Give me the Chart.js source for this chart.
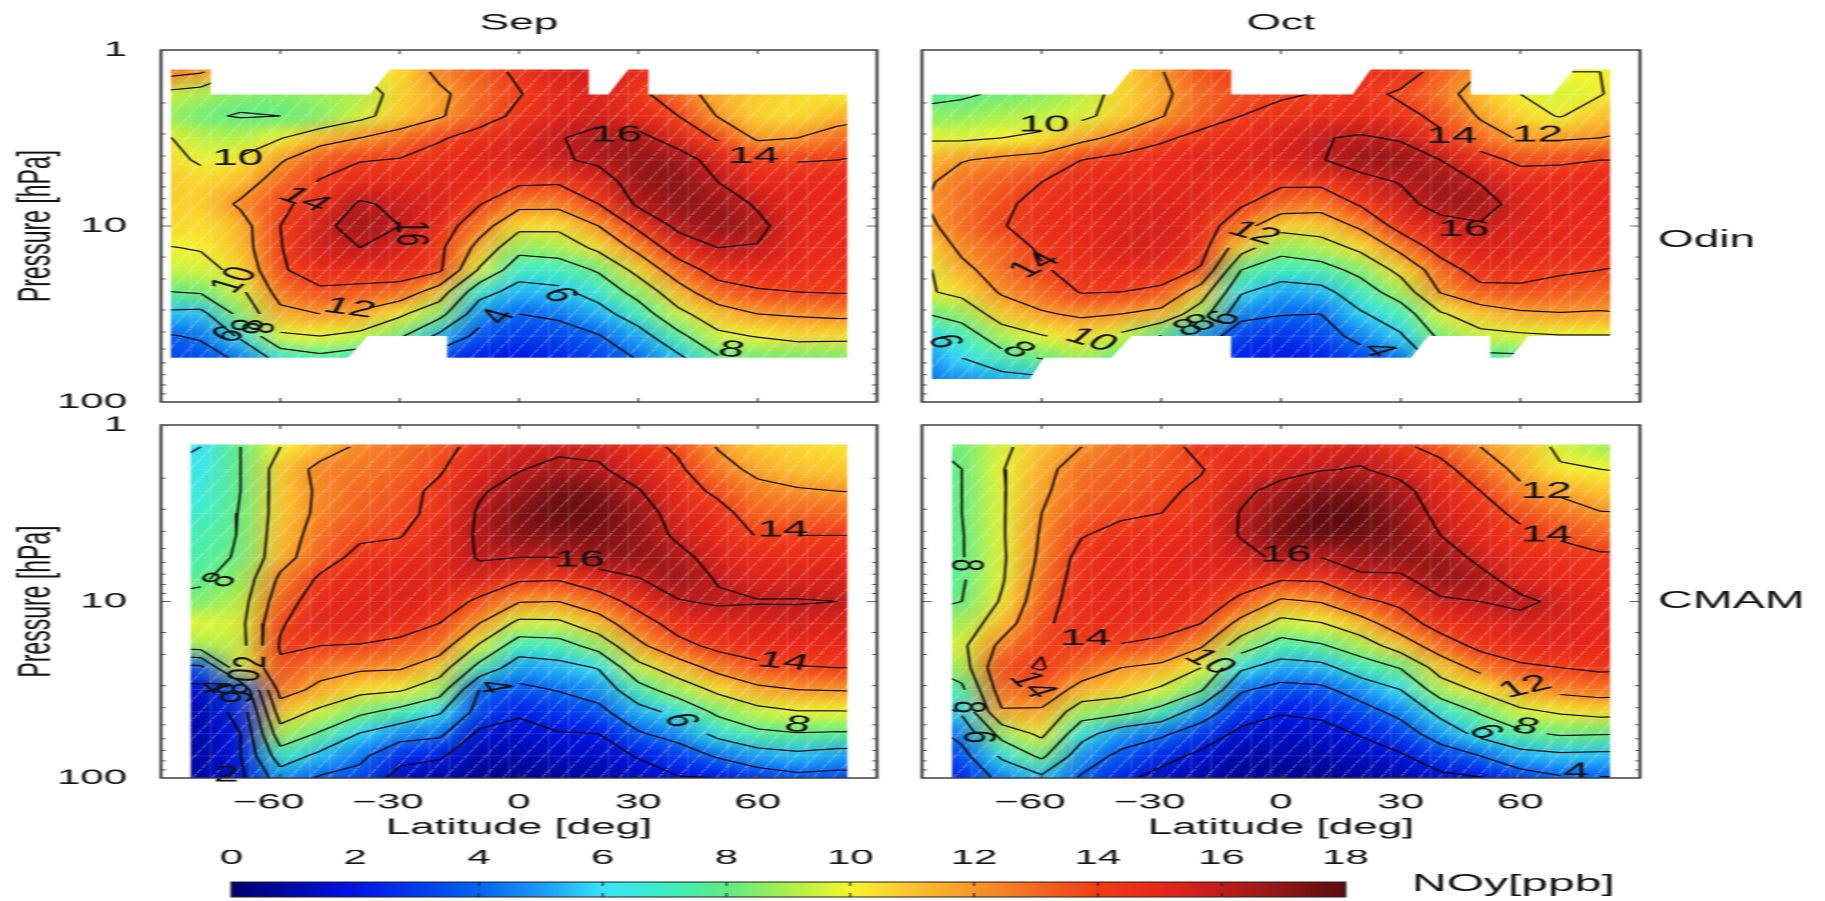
<!DOCTYPE html>
<html>
<head>
<meta charset="utf-8">
<title>NOy Odin CMAM</title>
<script src="https://cdn.jsdelivr.net/npm/chart.js@4"></script>
<style>
  html, body { margin: 0; padding: 0; background: #fff; overflow: hidden; }
  /* the reference is a picture stretched to twice its width, so the whole page is too */
  #page { position: absolute; left: 0; top: 0; width: 912.5px; height: 901px; transform: scaleX(2); transform-origin: 0 0; filter: blur(0.5px); }
  #page canvas { position: absolute; }
  .side { position: absolute; font-family: "Liberation Sans"; color: #111; line-height: 1; white-space: nowrap; }
</style>
</head>
<body>
<div id="page">
  <canvas id="sepOdin" width="445" height="415" style="left:0;top:0"></canvas>
  <canvas id="octOdin" width="380" height="415" style="left:445px;top:0"></canvas>
  <canvas id="sepCmam" width="445" height="438" style="left:0;top:412px"></canvas>
  <canvas id="octCmam" width="380" height="438" style="left:445px;top:412px"></canvas>
  <canvas id="bar" width="620" height="51" style="left:90px;top:850px"></canvas>
  <div class="side" style="left:829px;top:228px;font-size:23px">Odin</div>
  <div class="side" style="left:829px;top:588px;font-size:24px">CMAM</div>
  <div class="side" style="left:706px;top:871px;font-size:24px">NOy[ppb]</div>
</div>
<script>
const latitudes = [-90,-80,-70,-60,-50,-40,-30,-20,-10,0,10,20,30,40,50,60,70,80,90];
const pressures = [1.33,1.78,2.37,3.16,4.22,5.62,7.5,10,13.3,17.8,23.7,31.6,42.2,56.2,75,100];
const contourLevels = [2,4,6,8,10,12,14,16];
const barTicks = [0,2,4,6,8,10,12,14,16,18];
const rampValues = [0,2,4,5,6,7,8,9,10,11,12,13,14,15,16,17,18];
const rampColors = [[0,0,110],[0,20,230],[5,100,240],[25,155,245],[55,228,250],[60,238,195],[95,235,130],[170,240,75],
  [245,245,45],[252,195,45],[248,150,40],[243,105,32],[240,60,25],[232,40,25],[192,28,28],[145,22,22],[90,10,15]];
// faint white cell lines in the picture
const cellLineLats = [-82.5,-77.5,-67.5,-62.5,-52.5,-47.5,-37.5,-32.5,-22.5,-17.5,-7.5,-2.5,7.5,12.5,22.5,27.5,37.5,42.5,52.5,57.5,67.5,72.5];

// one row per pressure, latitudes across
const sepOdinRows = [
  [12.8,12.2,10,10,10,10,10.5,12.5,13.3,14.3,15.5,15.5,15,14,13,12,11,10.5,10.5],
  [9.5,9,8.5,8.5,8.8,9,10.7,11.6,13,13.9,15,15.3,14.5,12.8,11.3,10.8,10.5,10.2,9.8],
  [8.8,8.2,7.9,8,8.4,9.5,10.8,11.8,13.2,14.4,15.2,15.5,15,14,11.9,10.7,10.4,11.3,11.7],
  [10.3,9.2,9.1,9.9,11.2,12,12.8,13.8,14.7,15.2,15.9,16.5,16.5,15.2,13.8,11.7,12,12.8,13.5],
  [10.6,9.8,10.2,11.8,13.4,13.9,14.1,14.8,15.1,15.4,15.8,16.3,17,16.8,15.3,14,13.9,14,14.2],
  [11,10.6,11,13,14.1,15,15.1,15.2,15,14.3,14.2,15.2,16.8,17.2,16,15,15,15,15],
  [10.8,10.7,12.3,13.7,14.6,16.2,15.7,15.3,14.1,12.5,12.5,14,16.3,17,16.9,15.8,15.1,15,15],
  [10.7,10.4,11.2,14,15.5,16.8,16,15,12.8,10.5,10.4,12,14.4,16.4,17,16.4,15.1,15,15],
  [9.9,10.1,11.1,13.9,15.6,16,15.5,14.4,11.4,8.6,8.9,10.4,12.5,15,16,15.9,15,14.9,14.8],
  [9.4,9.5,10.4,13.8,14.8,15,14.9,14.3,9.8,6.8,7,8.2,10.6,13,14.7,15,14.8,14.5,14.3],
  [7.9,8.2,9.6,12.7,13.7,13.4,13.2,11,6.7,5.3,5.6,6.7,8.7,11.2,13.2,13.8,14,14.1,14.1],
  [5.6,5.4,8.6,11.5,12,11.7,10.3,8.7,4.8,4,4.3,5.3,7,9.5,11.1,12,12.2,12.4,12.4],
  [3.8,4.2,6.3,9.7,10,9.5,8.3,5.5,3.5,3,3.3,3.9,5.2,7.5,9.6,10.1,10.6,10.5,10.5],
  [3.2,3.3,4.3,6.7,7.5,6.9,6.2,3,2.2,2,2.4,3.2,4.1,5.6,7.8,8.2,8.3,8.4,8.4]
];
const octOdinRows = [
  [9,9,9,9,9.5,10.5,11.9,13.6,14,14,14,14.5,15,13.2,12,11,10,10,11],
  [7.5,7.8,8.2,8.5,9.2,10.6,11.6,13,13.6,13.8,14.1,14.6,13.7,12.8,11,10,9.5,9.9,11],
  [8.5,8.6,9,9.3,9.6,10.7,11.9,13.2,14,14.5,14.8,14.9,14.5,13.6,11.8,10.6,9.9,11,11.5],
  [9.8,9.7,10,10.3,11.5,12.5,13.7,14.5,14.9,15.3,15.9,16.2,15.8,14.3,12.9,11.8,11.8,12,12.3],
  [11.2,11.9,12.4,12.8,14,14.6,14.9,15.2,15.2,15.4,15.9,16.8,17,16,14.7,13.6,13.7,14,14],
  [11.6,12.8,13.2,14,14.9,15,15,15.1,15,14.3,14.4,15.4,16.1,16.9,15.9,15,15,15,14.9],
  [11.9,12.8,13.7,14.5,15,15.3,15.3,15.2,14.2,13.1,12.7,14.2,15.4,16.7,16.8,15.3,15,15,15],
  [11.4,12.9,13.9,14.7,15,15.3,15.5,15,12.8,10.6,10.9,12.3,14.7,15.3,15.8,15.3,15,14.9,14.8],
  [10.3,12.4,13,14.3,15,15.4,15.5,14.7,10.8,8.6,9.1,10.4,12.5,14.8,15.4,15.2,15,14.9,14.4],
  [9.5,11.5,12.9,13.8,14.6,14.9,14.9,13.8,8,7,7.3,8.5,10.5,13,14.8,14.6,14.2,14,13.8],
  [9.7,10.5,12.2,13,14.1,14,13.6,11,6.2,5.1,5.4,7.1,8.9,12.1,13.4,13.6,13.4,13.1,13],
  [7.9,8.7,10.9,11.8,12.3,12,11.4,8.9,4.5,4.1,4,5.8,7,9.8,11,11.7,11.9,11.8,12],
  [5.8,7,9,9.9,10.6,9.6,7.9,5,3,2.7,3.3,4.5,5.8,8.4,9.5,9.7,9.9,9.9,9.9],
  [4.5,6,7.3,8.1,9,8,6.5,3.2,2.3,2.1,2.2,3.3,4.2,7,7.5,7.6,8,8,8],
  [4.3,4.8,5.2,5.5,6,6,5,3,2,1.8,1.8,2.5,3.5,6,6,6,6.5,6.5,6.5]
];
// one column per latitude, pressures down
const sepCmamCols = [
  [5.8,6,6.3,6.6,7,7.2,7.6,8.2,9.3,8.5,3,1.4,1,.9,.8,.9],
  [6,6.2,6.5,6.8,7.2,7.4,7.8,8.4,9.8,9,3.5,1.5,1,1,.8,1],
  [8,8,8,8.1,8.1,8.2,8.7,9.2,9.5,9.3,9.7,4,2.5,2,2,1.6],
  [10,10.8,10.8,10.8,11,11.2,12.4,13.1,13.8,14.2,13.7,12.7,11,9.2,7.1,4.9],
  [11.1,12.5,12.3,12.4,12.8,13.2,14.3,15,15.2,14,12.6,11.6,9.6,7.8,5.5,3.8],
  [12.3,12.7,13,13.2,13.7,14.5,15,15.2,15.2,13.9,12.3,10.5,8.4,5.9,4.4,3.4],
  [12.8,13,13.4,13.6,13.9,14.7,15.2,15.3,15,13.4,12.2,10.2,7.4,4.8,2.6,1.3],
  [13.4,13.8,14.4,14.4,15,15.2,15.2,15.1,14,12.9,10.9,8.9,6.2,4.4,2.2,1],
  [14.6,15.3,15.8,16.2,16.2,16.1,15.5,13.6,12,9.8,7.4,4,3.4,1.6,1,.6],
  [15.5,15.9,16.7,17.3,17.2,16,14.2,12.1,9.5,7,5,3.6,2.2,1.5,1,.6],
  [15.6,16.5,17.5,17.8,17.3,16,14.1,12,9.6,7.2,5.4,4.1,2.9,1.9,1.3,.8],
  [15.6,16.2,17.4,17.7,17.4,16.9,15.2,13,11.2,8.7,6.1,4.8,3.5,2,1.4,.9],
  [14.7,15.3,16.1,16.9,17,17,15.9,14.7,13.1,11.6,9.4,7.3,5.3,3.8,2.1,1.3],
  [13.7,14.3,14.9,15.2,15.7,16.5,16.8,15.9,14.8,13.4,11,8.9,6.5,4.7,3,1.9],
  [11.9,12.6,13.6,14.7,15,15.3,15.9,16.2,15.2,14.5,12.6,10.4,8.4,6.5,4.2,2],
  [10.9,11.6,12.5,13,13.9,14.9,15.2,16.1,15.3,15,13.5,11.6,9.4,7.6,5.1,3],
  [10.6,11,12.2,13,14,14.8,15.3,16.1,15.4,15,13.9,12,9.9,7.9,5.5,3.5],
  [10.4,10.9,12,13,14,14.9,15.4,16,15.3,15,14,12.1,9.9,7.8,5.1,3.4],
  [10.3,10.8,11.9,12.9,14,14.9,15.4,15.9,15.2,15,14,12.2,10,7.8,5,3.4]
];
const octCmamCols = [
  [7.9,7.6,7.5,7.5,7.5,7.5,7.5,7.6,8.5,9.4,7.8,6.2,4.2,3,2.5,2],
  [8.2,8,8,8,7.9,7.9,7.8,8,8.9,9.6,9,7.6,6.3,4.6,3.4,2.5],
  [9.6,9.9,9.8,9.8,9.8,9.7,9.8,10.2,11,12.5,13.7,13,11.8,8.7,6.3,4.5],
  [11,11.4,11.7,12,12.2,12.4,12.8,13.2,13.7,13.9,14.1,13.3,11.7,10.4,8.4,5.6],
  [12,12.9,13,13.3,13.9,14.6,14.8,14.9,14.7,14,13.1,11.3,8.9,6.7,4.9,3.8],
  [13,13.1,13.4,13.7,14.6,15,15,15,14.9,13.9,12,10.8,8.5,4.9,3.6,2.4],
  [13.2,13.5,13.7,14,14.8,15,15.1,15.1,14.9,13.4,11.6,9.7,7.4,4.3,2.6,1.4],
  [14.6,13.9,14.3,14.6,15,15.2,15.1,14.9,14,12.2,10,8.2,5,3,1.6,1],
  [14.6,15.1,15.6,16.1,16.1,15.5,14.8,13.6,11.4,8.9,6.3,4.2,2.8,1.6,1,.6],
  [15,15.4,16.6,17.2,17.5,16.3,14.1,11.7,9.4,7.2,5.2,3.4,2.1,1.4,1,.6],
  [15.2,15.9,17.3,18,17.8,16,14.2,12.1,9.9,7.8,5.4,3.6,2.3,1.5,1,.6],
  [15.5,16.1,17.3,17.9,17.6,16.8,15.6,13.6,11.2,9,7,4.8,3.3,2.1,1.3,.8],
  [14.3,15.5,16.5,17,17.2,17,15.6,14.4,13.1,10.9,8.1,6,4.5,3.1,1.8,1.1],
  [13.5,14.5,15.1,15.5,16,17,17,15.7,14.8,13,10.8,9,6.5,4.9,3,1.6],
  [12,13.1,14,14.7,15,15.5,16.6,16,15.1,14.5,12.6,10.3,8.2,6.5,4,1.9],
  [11.2,11.5,12.4,13.6,14.4,14.8,15.2,16.4,15.4,15,13.7,11.7,9.6,7.6,5.3,3.1],
  [9.6,10.2,11.7,12.8,13.8,14.6,15,15.6,15.4,15.1,14,12.5,10.2,8.2,5.6,3.8],
  [8.9,10,11,12.1,13.1,14.3,14.8,15,15,15,14.3,12.8,10.6,8.1,5.5,3.9],
  [8.6,9.8,10.8,12,13,14.3,14.7,15,15,14.9,14.2,12.6,10.5,8,5.5,3.9]
];

// outline of where data exists [lat, hPa]
const sepOdinOutline = [[-87.5,1.29],[-77.5,1.29],[-77.5,1.79],[-37.5,1.79],[-32.5,1.29],[17.5,1.29],[17.5,1.79],[22.5,1.79],[27.5,1.29],[32.5,1.29],[32.5,1.79],[82.5,1.79],[82.5,56],[-18,56],[-18,42.2],[-38,42.2],[-43,56],[-87.5,56]];
const octOdinOutline = [[-87.5,1.79],[-42.5,1.79],[-37.5,1.29],[-12.5,1.29],[-12.5,1.79],[18,1.79],[22.5,1.29],[47.5,1.29],[47.5,1.79],[68,1.79],[73.5,1.29],[82.5,1.29],[82.5,42.2],[62,42.2],[57.5,56],[52.5,56],[52.5,42.2],[37,42.2],[32.5,56],[-12.5,56],[-12.5,42.2],[-37.5,42.2],[-42.5,56],[-59.5,56],[-63,74],[-87.5,74]];
const cmamOutline = [[-82.5,1.29],[82.5,1.29],[82.5,100],[-82.5,100]];

// contour labels [lat, hPa, text, rotation]
const sepOdinLabels = [[-70.7,4.13,'10',0],[-54,7.1,'14',35],[24.5,3.04,'16',0],[59,4.04,'14',0],[-27.4,11,'16',90],[-71.4,20.3,'10',-60],[-42.6,29.4,'12',15],[10,24.7,'6',60],[-5,32.7,'4',-60],[53.4,50.7,'8',10],[-69.3,36.5,'8',90],[-66.4,38,'8',90],[-72.9,41.6,'6',-45]];
const octOdinLabels = [[-59.4,2.67,'10',0],[42.8,3.1,'14',0],[64.3,3.04,'12',0],[-61.6,16.7,'14',-45],[45.8,10.5,'16',0],[-6.8,11,'12',30],[-47.6,44.5,'10',30],[-66,50.7,'8',45],[-84.6,45.4,'6',70],[-23.1,38.1,'8',-30],[-20,35.7,'8',-30],[-14.2,33.5,'6',-60],[24.3,50.7,'4',60]];
const sepCmamLabels = [[66.4,3.94,'14',0],[15.2,5.83,'16',0],[-75,7.57,'8',-60],[66.4,22,'14',10],[70,50.2,'8',10],[40.4,47.1,'6',70],[-6.5,30.5,'4',70],[-67.1,22,'2',-90],[-68.5,26.2,'0',-80],[-72.9,31.1,'8',90],[-72,34.7,'6',90],[-77,30.5,'4',60],[-73.6,96.6,'2',0]];
const octCmamLabels = [[66.5,2.39,'12',0],[66.5,4.2,'14',0],[1.3,5.46,'16',0],[-49,16.2,'14',0],[-79.4,6.22,'8',90],[-62.4,29.8,'14',60],[-17.9,22,'10',45],[61.3,30.5,'12',-25],[61.3,51.4,'8',15],[51,54.8,'6',60],[74,92.5,'4',0],[-78.7,39.6,'8',90],[-76.4,58.5,'6',90]];

const FONT = 'Liberation Sans';
const DPR = 2;

function rampColor(v) {
  let i = 0;
  while (i < rampValues.length - 2 && v > rampValues[i + 1]) i++;
  const t = Math.min(1, Math.max(0, (v - rampValues[i]) / (rampValues[i + 1] - rampValues[i])));
  const c = rampColors[i].map((a, n) => Math.round(a + (rampColors[i + 1][n] - a) * t));
  return 'rgb(' + c.join(',') + ')';
}

function rowsFromCols(cols) {
  return cols[0].map((_, r) => cols.map(col => col[r]));
}

// row edges half way between pressure levels on the log axis
function rowEdge(r) {
  const a = Math.log10(pressures[Math.max(r, 0)]), b = Math.log10(pressures[Math.min(r + 1, pressures.length - 1)]);
  const step = r < 0 ? Math.log10(pressures[1] / pressures[0]) : r >= pressures.length - 1 ? Math.log10(pressures[r] / pressures[r - 1]) : 0;
  return Math.pow(10, r < 0 ? a - step / 2 : r >= pressures.length - 1 ? a + step / 2 : (a + b) / 2);
}

function cellDatasets(rows) {
  return rows.map((row, r) => ({
    type: 'bar', order: 2, grouped: false, barPercentage: 1, categoryPercentage: 1, borderWidth: 0,
    data: latitudes.map((lat, c) => ({ x: lat, y: [rowEdge(r - 1), rowEdge(r)] })),
    backgroundColor: row.map(rampColor)
  }));
}

// marching squares over the read grid, segments split by empty points
function contourPoints(rows, labels) {
  const out = [];
  const nearLabel = (lat, lp) => labels.some(l => Math.abs(lat - l[0]) < 3 * l[2].length + 1 && Math.abs(lp - Math.log10(l[1])) < 0.05);
  const logs = pressures.map(p => Math.log10(p));
  contourLevels.forEach(level => {
    const cross = (r1, c1, r2, c2) => {
      const a = rows[r1][c1], b = rows[r2][c2];
      if ((a < level) === (b < level)) return null;
      const t = (level - a) / (b - a);
      return [latitudes[c1] + (latitudes[c2] - latitudes[c1]) * t, logs[r1] + (logs[r2] - logs[r1]) * t];
    };
    const add = (p, q) => {
      if (nearLabel((p[0] + q[0]) / 2, (p[1] + q[1]) / 2)) return;
      out.push({ x: p[0], y: Math.pow(10, p[1]) }, { x: q[0], y: Math.pow(10, q[1]) }, { x: null, y: null });
    };
    for (let r = 0; r < rows.length - 1; r++) {
      for (let c = 0; c < latitudes.length - 1; c++) {
        const top = cross(r, c, r, c + 1), right = cross(r, c + 1, r + 1, c + 1), bottom = cross(r + 1, c, r + 1, c + 1), left = cross(r, c, r + 1, c);
        const pts = [top, right, bottom, left].filter(Boolean);
        if (pts.length === 2) add(pts[0], pts[1]);
        if (pts.length === 4) {
          const mid = (rows[r][c] + rows[r][c + 1] + rows[r + 1][c] + rows[r + 1][c + 1]) / 4;
          if ((mid < level) === (rows[r][c] < level)) { add(top, right); add(bottom, left); }
          else { add(top, left); add(right, bottom); }
        }
      }
    }
  });
  return out;
}

function tracePath(ctx, chart, outline) {
  ctx.beginPath();
  outline.forEach((p, i) => {
    const x = chart.scales.x.getPixelForValue(p[0]), y = chart.scales.y.getPixelForValue(p[1]);
    if (i) ctx.lineTo(x, y); else ctx.moveTo(x, y);
  });
  ctx.closePath();
}

// white overlay that the reference has on top of the colours
function drawHatch(ctx, area) {
  ctx.save();
  ctx.strokeStyle = 'rgba(255,255,255,0.62)';
  ctx.lineWidth = 0.5;
  ctx.setLineDash([4.5, 1]);
  ctx.beginPath();
  for (let x = area.left - area.height; x < area.right; x += 9.7) {
    ctx.moveTo(x, area.bottom);
    ctx.lineTo(x + area.height / 2, area.top);
  }
  ctx.stroke();
  ctx.restore();
}

function drawCellLines(ctx, chart) {
  const area = chart.chartArea;
  ctx.save();
  ctx.strokeStyle = 'rgba(255,255,255,0.2)';
  ctx.lineWidth = 0.6;
  ctx.beginPath();
  cellLineLats.forEach(lat => {
    const x = chart.scales.x.getPixelForValue(lat);
    ctx.moveTo(x, area.top); ctx.lineTo(x, area.bottom);
  });
  pressures.forEach(p => {
    const y = chart.scales.y.getPixelForValue(p);
    ctx.moveTo(area.left, y); ctx.lineTo(area.right, y);
  });
  ctx.stroke();
  ctx.restore();
}

const fieldPlugin = {
  id: 'field',
  beforeDatasetsDraw(chart, args, opts) {
    chart.ctx.save();
    tracePath(chart.ctx, chart, opts.outline);
    chart.ctx.clip();
  },
  afterDatasetDraw(chart, args) {
    // last cell row has just gone down: lay a blurred copy on top to smooth the cells
    if (args.index !== 0) return;
    const off = document.createElement('canvas');
    off.width = chart.width * DPR; off.height = chart.height * DPR;
    const offCtx = off.getContext('2d');
    offCtx.scale(DPR, DPR);
    chart.data.datasets.forEach((d, i) => {
      if (d.type === 'bar') chart.getDatasetMeta(i).data.forEach(el => el.draw(offCtx));
    });
    const ctx = chart.ctx;
    ctx.save();
    ctx.filter = 'blur(' + (8 * DPR) + 'px)';
    ctx.drawImage(off, 0, 0, chart.width, chart.height);
    ctx.restore();
    drawCellLines(ctx, chart);
    drawHatch(ctx, chart.chartArea);
  },
  afterDatasetsDraw(chart, args, opts) {
    const ctx = chart.ctx, area = chart.chartArea;
    ctx.restore();
    // contour labels
    ctx.save();
    ctx.fillStyle = '#111';
    ctx.font = '23px "' + FONT + '"';
    ctx.textAlign = 'center';
    ctx.textBaseline = 'middle';
    opts.labels.forEach(l => {
      ctx.save();
      ctx.translate(chart.scales.x.getPixelForValue(l[0]), chart.scales.y.getPixelForValue(l[1]));
      ctx.rotate(l[3] * Math.PI / 180);
      ctx.fillText(l[2], 0, 0);
      ctx.restore();
    });
    ctx.restore();
    // frame and inward ticks on all four sides
    ctx.save();
    ctx.strokeStyle = '#333';
    ctx.lineWidth = 1.4;
    ctx.strokeRect(area.left, area.top, area.right - area.left, area.bottom - area.top);
    ctx.lineWidth = 0.8;
    ctx.beginPath();
    chart.scales.x.ticks.forEach(t => {
      if (t.value <= -90 || t.value >= 90) return;
      const x = chart.scales.x.getPixelForValue(t.value);
      ctx.moveTo(x, area.top); ctx.lineTo(x, area.top + 4);
      ctx.moveTo(x, area.bottom); ctx.lineTo(x, area.bottom - 4);
    });
    chart.scales.y.ticks.forEach(t => {
      const y = chart.scales.y.getPixelForValue(t.value);
      const len = [1, 10, 100].includes(t.value) ? 5 : 2.5;
      ctx.moveTo(area.left, y); ctx.lineTo(area.left + len, y);
      ctx.moveTo(area.right, y); ctx.lineTo(area.right - len, y);
    });
    ctx.stroke();
    ctx.restore();
  }
};

function makePanel(id, rows, outline, labels, title, hasLeft, hasBottom) {
  const panelData = cellDatasets(rows);
  panelData.push({
    type: 'line', order: 1, data: contourPoints(rows, labels), borderColor: '#000', borderWidth: 1.1,
    pointRadius: 0, spanGaps: false, tension: 0
  });
  new Chart(document.getElementById(id), {
    type: 'bar',
    data: { datasets: panelData },
    plugins: [fieldPlugin],
    options: {
      responsive: false,
      animation: false,
      devicePixelRatio: DPR,
      layout: { padding: { top: title ? 0 : 13, right: hasLeft ? 6.5 : 5 } },
      plugins: {
        legend: { display: false },
        tooltip: { enabled: false },
        title: {
          display: !!title, text: title, fullSize: false, color: '#111',
          font: { family: FONT, size: 22, weight: 'normal', lineHeight: 1.2 },
          padding: { top: 10, bottom: 13.6 }
        },
        field: { outline: outline, labels: labels }
      },
      scales: {
        x: {
          type: 'linear', min: -90, max: 90, offset: false,
          grid: { display: false }, border: { display: false },
          afterFit(s) { s.height = hasBottom ? 72 : 13; s.paddingLeft = 0; s.paddingRight = 0; },
          ticks: {
            display: hasBottom, stepSize: 30, autoSkip: false, maxRotation: 0, padding: 4, color: '#111',
            font: { family: FONT, size: 21 },
            // figure space keeps the digits, not the minus, centred on the tick
            callback: v => Math.abs(v) === 90 ? '' : v < 0 ? '\u2212' + (-v) + '\u2007' : String(v)
          },
          title: {
            display: hasBottom, text: 'Latitude [deg]', color: '#111',
            font: { family: FONT, size: 22 }, padding: { top: 0, bottom: 9 }
          }
        },
        y: {
          type: 'logarithmic', min: 1, max: 100, reverse: true,
          grid: { display: false }, border: { display: false },
          afterFit(s) { s.width = hasLeft ? 80.5 : 16; s.paddingTop = 0; s.paddingBottom = 0; },
          ticks: {
            display: hasLeft, autoSkip: false, padding: 9, color: '#111',
            font: { family: FONT, size: 21 },
            callback: v => [1, 10, 100].includes(v) ? String(v) : ''
          },
          title: {
            display: hasLeft, text: 'Pressure [hPa]', color: '#111',
            font: { family: FONT, size: 23 }, padding: { top: 5, bottom: 0 }
          }
        }
      }
    }
  });
}

makePanel('sepOdin', sepOdinRows, sepOdinOutline, sepOdinLabels, 'Sep', true, false);
makePanel('octOdin', octOdinRows, octOdinOutline, octOdinLabels, 'Oct', false, false);
makePanel('sepCmam', rowsFromCols(sepCmamCols), cmamOutline, sepCmamLabels, '', true, true);
makePanel('octCmam', rowsFromCols(octCmamCols), cmamOutline, octCmamLabels, '', false, true);

// colour bar
new Chart(document.getElementById('bar'), {
  type: 'bar',
  data: {
    labels: ['NOy'],
    datasets: [{
      data: [[barTicks[0], barTicks[barTicks.length - 1]]],
      barPercentage: 1, categoryPercentage: 1, borderWidth: 0,
      backgroundColor(c) {
        const area = c.chart.chartArea;
        if (!area) return '#000';
        const g = c.chart.ctx.createLinearGradient(area.left, 0, area.right, 0);
        rampValues.forEach(v => g.addColorStop(v / 18, rampColor(v)));
        return g;
      }
    }]
  },
  plugins: [{
    id: 'barFrame',
    afterDatasetsDraw(chart) {
      const ctx = chart.ctx, area = chart.chartArea;
      ctx.save();
      ctx.strokeStyle = '#222';
      ctx.lineWidth = 1;
      ctx.strokeRect(area.left, area.top, area.right - area.left, area.bottom - area.top);
      ctx.lineWidth = 0.8;
      ctx.beginPath();
      barTicks.slice(1, -1).forEach(v => {
        const x = chart.scales.x.getPixelForValue(v);
        ctx.moveTo(x, area.top); ctx.lineTo(x, area.top + 4);
        ctx.moveTo(x, area.bottom); ctx.lineTo(x, area.bottom - 4);
      });
      ctx.stroke();
      ctx.restore();
    }
  }],
  options: {
    responsive: false, animation: false, devicePixelRatio: DPR, indexAxis: 'y',
    layout: { padding: { left: 25.7, right: 620 - 582.7, bottom: 4 } },
    plugins: { legend: { display: false }, tooltip: { enabled: false } },
    scales: {
      x: {
        type: 'linear', position: 'top', min: 0, max: 18,
        afterBuildTicks(s) { s.ticks = barTicks.map(v => ({ value: v })); },
        afterFit(s) { s.height = 32; },
        grid: { display: false }, border: { display: false },
        ticks: { autoSkip: false, maxRotation: 0, padding: 3, color: '#111', font: { family: FONT, size: 21 } }
      },
      y: { display: false }
    }
  }
});
</script>
</body>
</html>
